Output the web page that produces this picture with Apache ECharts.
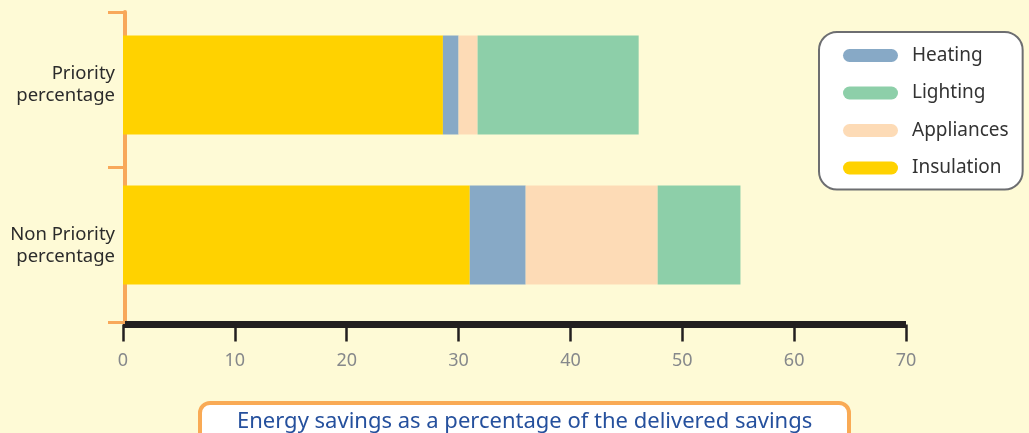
<!DOCTYPE html>
<html>
<head>
<meta charset="utf-8">
<script src="https://cdn.jsdelivr.net/npm/echarts@6/dist/echarts.min.js"></script>
<style>
html,body{margin:0;padding:0;background:#fefad6;}
#c{width:1029px;height:433px;}
</style>
</head>
<body>
<div id="c"></div>
<script>
const categories = ['Priority\npercentage', 'Non Priority\npercentage'];
const insulation = [28.6, 31.0];
const heating = [1.4, 5.0];
const appliances = [1.7, 11.8];
const lighting = [14.4, 7.4];
const legendOrder = ['Heating', 'Lighting', 'Appliances', 'Insulation'];
const xTicks = {min: 0, max: 70, interval: 10};
const titleText = 'Energy savings as a percentage of the delivered savings';

const colors = {Insulation: '#ffd200', Heating: '#87a9c6', Appliances: '#fddbb6', Lighting: '#8dcfa9'};
const FONT = 'Noto Sans';
const pill = 'path://M6.5,0 L48.5,0 A6.5,6.5 0 0 1 48.5,13 L6.5,13 A6.5,6.5 0 0 1 6.5,0 Z';

const chart = echarts.init(document.getElementById('c'), null, {renderer: 'canvas'});

function bar(name, data) {
  return {
    name: name, type: 'bar', stack: 'total', xAxisIndex: 0, yAxisIndex: 0,
    data: data, barWidth: 99, itemStyle: {color: colors[name]},
    emphasis: {disabled: true}
  };
}

chart.setOption({
  backgroundColor: '#fefad6',
  animation: false,
  textStyle: {fontFamily: FONT},
  title: {
    text: titleText,
    left: 200, top: 403,
    padding: [8, 37, 20, 37],
    backgroundColor: '#ffffff',
    borderColor: '#f9aa55', borderWidth: 4, borderRadius: 10,
    textStyle: {color: '#25509d', fontSize: 22, fontWeight: 'normal', fontFamily: FONT}
  },
  legend: {
    data: legendOrder,
    orient: 'vertical',
    left: 819, top: 32,
    icon: pill,
    itemWidth: 55, itemHeight: 13, itemGap: 18.5,
    padding: [14, 14, 12, 24],
    backgroundColor: '#ffffff',
    borderColor: '#6d6e71', borderWidth: 2, borderRadius: 18,
    textStyle: {color: '#333333', fontSize: 19, fontFamily: FONT, padding: [0, 0, 0, 9]},
    selectedMode: false
  },
  grid: [
    {left: 123, top: 10, width: 783, height: 300, containLabel: false},
    {left: 123, top: 12, width: 783, height: 310, containLabel: false}
  ],
  xAxis: [
    {gridIndex: 0, type: 'value', min: xTicks.min, max: xTicks.max, interval: xTicks.interval,
     show: false, splitLine: {show: false}},
    {gridIndex: 1, type: 'value', min: xTicks.min, max: xTicks.max, interval: xTicks.interval,
     position: 'bottom', offset: 2.5,
     axisLine: {show: true, lineStyle: {color: '#231f20', width: 7, cap: 'butt'}},
     axisTick: {show: true, length: 17, lineStyle: {color: '#231f20', width: 2.5}},
     axisLabel: {color: '#86888b', fontSize: 18, margin: 27, fontFamily: FONT},
     splitLine: {show: false}}
  ],
  yAxis: [
    {gridIndex: 0, type: 'category', data: categories, inverse: true,
     axisLine: {show: false}, axisTick: {show: false},
     axisLabel: {color: '#2b2b2b', fontSize: 18.5, lineHeight: 22, margin: 8, fontFamily: FONT, align: 'right',
       formatter: function (v, i) { return i === 1 ? '\n' + v : v; }},
     splitLine: {show: false}},
    {gridIndex: 1, type: 'category', data: ['', ''], inverse: true, offset: -2,
     axisLine: {show: true, lineStyle: {color: '#f8a85a', width: 4}},
     axisTick: {show: true, length: 17, lineStyle: {color: '#f8a85a', width: 3}},
     axisLabel: {show: false},
     splitLine: {show: false}}
  ],
  series: [
    bar('Insulation', insulation),
    bar('Heating', heating),
    bar('Appliances', appliances),
    bar('Lighting', lighting)
  ]
});
</script>
</body>
</html>
